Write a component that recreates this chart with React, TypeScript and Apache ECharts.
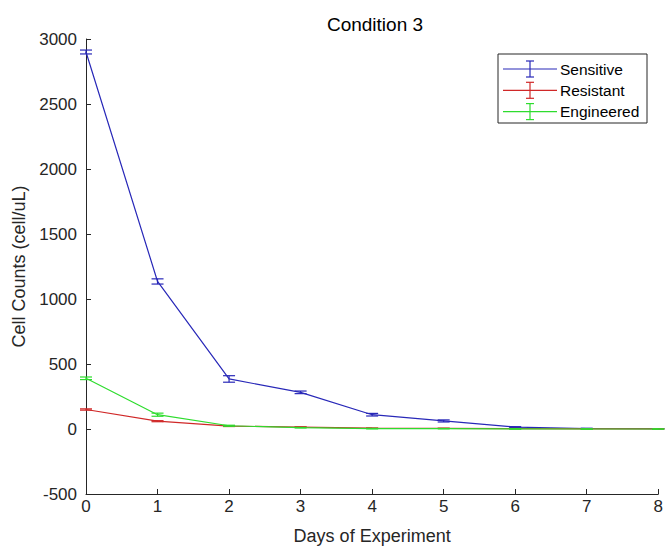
import React, { useEffect, useRef } from "react";
import * as echarts from "echarts";

const days = [0, 1, 2, 3, 4, 5, 6, 7, 8];
const sensitive = [2900, 1135, 385, 282, 110, 62, 15, 4, 2];
const sensitiveErr = [15, 20, 25, 10, 10, 8, 3, 2, 1];
const resistant = [150, 60, 22, 15, 6, 5, 3, 1, 1];
const resistantErr = [5, 4, 3, 2, 1, 1, 1, 0, 0];
const engineered = [390, 110, 25, 10, 3, 3, 1, 0, 0];
const engineeredErr = [10, 12, 4, 2, 2, 1, 1, 0, 0];

const names = ["Sensitive", "Resistant", "Engineered"];
const colors = ["#2828b8", "#d02828", "#2edc2e"];
const values = [sensitive, resistant, engineered];
const errors = [sensitiveErr, resistantErr, engineeredErr];

const FONT = "Liberation Sans";

export default function App() {
  const ref = useRef<HTMLDivElement>(null);
  useEffect(() => {
    if (!ref.current) return;
    const chart = echarts.init(ref.current, null, { renderer: "svg" });
    const series: any[] = [];
    names.forEach((name, i) => {
      series.push({
        name,
        type: "line",
        data: days.map((d, j) => [d, values[i][j]]),
        symbol: "none",
        color: colors[i],
        lineStyle: { color: colors[i], width: 1.2 },
        itemStyle: { color: colors[i] },
        z: 3 + i,
      });
      series.push({
        name,
        type: "custom",
        color: colors[i],
        data: days.map((d, j) => [d, values[i][j] - errors[i][j], values[i][j] + errors[i][j]]),
        z: 3 + i,
        renderItem: (params: any, api: any) => {
          const x = api.value(0);
          const lo = api.coord([x, api.value(1)]);
          const hi = api.coord([x, api.value(2)]);
          const hw = 6;
          const style = { stroke: colors[i], lineWidth: 1.2 };
          return {
            type: "group",
            children: [
              { type: "line", shape: { x1: lo[0], y1: lo[1], x2: hi[0], y2: hi[1] }, style },
              { type: "line", shape: { x1: lo[0] - hw, y1: lo[1], x2: lo[0] + hw, y2: lo[1] }, style },
              { type: "line", shape: { x1: hi[0] - hw, y1: hi[1], x2: hi[0] + hw, y2: hi[1] }, style },
            ],
          };
        },
      });
    });

    // legend drawn as graphic (MATLAB-style error-bar icons)
    const lgX = 498, lgY = 54, lgW = 149, lgH = 69, rowH = 21.3, firstRow = 69;
    const legendChildren: any[] = [
      { type: "rect", shape: { x: lgX, y: lgY, width: lgW, height: lgH }, style: { fill: "#fff", stroke: "#262626", lineWidth: 1 } },
    ];
    names.forEach((name, i) => {
      const cy = firstRow + i * rowH;
      const st = { stroke: colors[i], lineWidth: 1.2 };
      legendChildren.push(
        { type: "line", shape: { x1: 503, y1: cy, x2: 557, y2: cy }, style: st },
        { type: "line", shape: { x1: 530, y1: cy - 8, x2: 530, y2: cy + 8 }, style: st },
        { type: "line", shape: { x1: 526, y1: cy - 8, x2: 534, y2: cy - 8 }, style: st },
        { type: "line", shape: { x1: 526, y1: cy + 8, x2: 534, y2: cy + 8 }, style: st },
        {
          type: "text",
          style: { text: name, x: 560, y: cy, fill: "#000", fontFamily: FONT, fontSize: 15.5, verticalAlign: "middle" },
        }
      );
    });

    const fmt = (v: number) => String(v);
    chart.setOption({
      animation: false,
      backgroundColor: "#ffffff",
      title: {
        text: "Condition 3",
        left: 370,
        textAlign: "center",
        top: 10,
        textStyle: { fontFamily: FONT, fontSize: 19, fontWeight: "normal", color: "#000" },
      },
      grid: { left: 86, right: 4, top: 39, bottom: 54 },
      xAxis: {
        type: "value",
        min: 0,
        max: 8,
        interval: 1,
        name: "Days of Experiment",
        nameLocation: "middle",
        nameGap: 33,
        nameTextStyle: { fontFamily: FONT, fontSize: 18, color: "#262626" },
        axisLine: { onZero: false, lineStyle: { color: "#262626" } },
        axisTick: { inside: true, length: 5, lineStyle: { color: "#262626" } },
        axisLabel: { fontFamily: FONT, fontSize: 17, color: "#262626", margin: 4, formatter: fmt },
        splitLine: { show: false },
      },
      yAxis: {
        type: "value",
        min: -500,
        max: 3000,
        interval: 500,
        name: "Cell Counts (cell/uL)",
        nameLocation: "middle",
        nameGap: 51,
        nameTextStyle: { fontFamily: FONT, fontSize: 18, color: "#262626" },
        axisLine: { show: true, onZero: false, lineStyle: { color: "#262626" } },
        axisTick: { show: true, inside: true, length: 5, lineStyle: { color: "#262626" } },
        axisLabel: { fontFamily: FONT, fontSize: 17, color: "#262626", margin: 9, formatter: fmt },
        splitLine: { show: false },
      },
      graphic: [{ type: "group", children: legendChildren, z: 100 }],
      series,
    });
    return () => chart.dispose();
  }, []);
  return <div ref={ref} style={{ width: 666, height: 550, position: "absolute", left: 0, top: 0 }} />;
}
